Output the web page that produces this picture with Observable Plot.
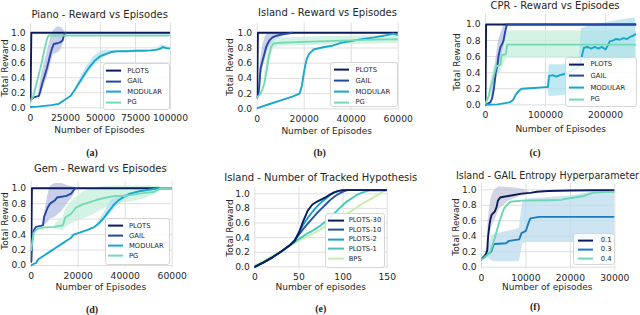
<!DOCTYPE html>
<html><head><meta charset="utf-8">
<script src="https://cdn.jsdelivr.net/npm/d3@7"></script>
<script src="https://cdn.jsdelivr.net/npm/@observablehq/plot@0.6"></script>
<style>
body{margin:0;background:#fff;}
#fig{position:relative;width:640px;height:315px;overflow:hidden;background:#fff;font-family:"DejaVu Sans",sans-serif;color:#262626;}
#fig svg{position:absolute;left:0;top:0;}
.t{position:absolute;white-space:nowrap;transform:translate(-50%,-50%);line-height:1;}
.title{font-size:10px;}
.xl{font-size:9px;}
.yl{font-size:9px;transform:translate(-50%,-50%) rotate(-90deg);}
.cap{font-family:"Liberation Serif",serif;font-weight:bold;font-size:10px;}
.leg{position:absolute;box-sizing:border-box;border:1px solid #d6d6d6;border-radius:3px;background:rgba(255,255,255,0.85);}
.row{position:absolute;font-size:6.8px;white-space:nowrap;transform:translateY(-50%);display:flex;align-items:center;line-height:1;}
.sw{display:inline-block;height:2px;}
</style>
</head><body>
<div id="fig"></div>
<script>
// ---------- DATA ----------
const seriesNames = ["PLOTS", "GAIL", "MODULAR", "PG"];
const hypNames = ["PLOTS-30", "PLOTS-10", "PLOTS-2", "PLOTS-1", "BPS"];
const entropyNames = ["0.1", "0.3", "0.4"];
const yTickValues = [0, 0.2, 0.4, 0.6, 0.8, 1.0];
const pianoTicks = [0, 25000, 50000, 75000, 100000];
const islandTicks = [0, 20000, 40000, 60000];
const cprTicks = [0, 100000, 200000];
const gemTicks = [0, 20000, 40000, 60000];
const hypTicks = [0, 50, 100, 150];
const entropyTicks = [0, 10000, 20000, 30000];

// (a) Piano
const pianoPLOTS = [[0,0.1],[600,1.0],[100000,1.0]];
const pianoGAIL = [[0,0.1],[2400,0.14],[6000,0.16],[7000,0.22],[8300,0.32],[10000,0.42],[11900,0.54],[13000,0.62],[14300,0.72],[15500,0.8],[16600,0.85],[19000,0.86],[21400,0.875],[23000,0.9],[23800,0.965],[25000,1.0]];
const pianoGAILBand = [[6000,0.1,0.22],[8000,0.2,0.45],[10000,0.3,0.6],[12000,0.4,0.75],[14000,0.55,0.9],[16000,0.7,1.02],[18000,0.72,1.06],[20000,0.74,1.08],[22000,0.78,1.07],[24000,0.9,1.03],[25000,1.0,1.0]];
const pianoMODULAR = [[0,0.01],[5000,0.015],[10000,0.025],[15000,0.035],[20000,0.05],[24000,0.1],[28800,0.16],[32000,0.25],[35700,0.36],[39000,0.46],[42800,0.56],[46000,0.63],[50000,0.69],[54000,0.72],[57100,0.74],[60000,0.75],[64300,0.755],[70000,0.755],[75000,0.76],[80900,0.76],[86000,0.765],[90500,0.775],[93000,0.79],[94500,0.81],[97000,0.795],[100000,0.79]];
const pianoMODULARBand = [[32000,0.24,0.27],[36000,0.32,0.41],[40000,0.43,0.55],[45000,0.55,0.68],[50000,0.64,0.75],[55000,0.7,0.77],[60000,0.74,0.76],[88000,0.76,0.77],[91000,0.76,0.8],[94000,0.77,0.84],[97000,0.78,0.82],[100000,0.78,0.8]];
const pianoPG = [[0,0.08],[2000,0.16],[4000,0.3],[6000,0.45],[8000,0.6],[10000,0.78],[12000,0.93],[13000,0.965],[100000,0.965]];

// (b) Island
const islandPLOTS = [[0,0.15],[300,1.0],[60000,1.0]];
const islandGAIL = [[0,0.15],[500,0.18],[900,0.3],[1400,0.52],[2000,0.6],[2800,0.69],[3300,0.75],[3800,0.81],[4500,0.86],[5200,0.9],[6500,0.94],[8000,0.96],[10600,0.98],[13000,0.99],[14900,1.0]];
const islandGAILBand = [[500,0.15,0.3],[1500,0.4,0.65],[2500,0.55,0.85],[3500,0.65,0.95],[5000,0.8,1.0],[8000,0.92,1.0],[12000,0.96,1.0],[15000,1.0,1.0]];
const islandMODULAR = [[0,0.01],[5000,0.06],[10000,0.11],[15000,0.16],[18000,0.2],[19000,0.3],[20000,0.5],[21000,0.65],[22000,0.72],[24000,0.78],[28000,0.81],[32000,0.83],[36000,0.87],[40000,0.89],[45000,0.92],[50000,0.94],[55000,0.97],[58000,0.99],[60000,0.97]];
const islandPG = [[0,0.15],[1500,0.2],[3000,0.33],[4000,0.5],[5000,0.7],[6000,0.82],[7000,0.86],[10000,0.87],[20000,0.88],[30000,0.89],[40000,0.9],[50000,0.91],[60000,0.915]];
const islandPGBand = [[3000,0.25,0.45],[5000,0.6,0.8],[7000,0.8,0.92],[10000,0.82,0.93],[30000,0.84,0.95],[60000,0.86,0.97]];

// (c) CPR
const cprPLOTS = [[0,0.02],[1000,1.0],[252000,1.0]];
const cprGAIL = [[0,0.0],[8000,0.03],[11000,0.08],[14000,0.2],[17000,0.4],[20000,0.5],[22000,0.62],[25000,0.72],[28000,0.76],[30000,0.8],[32000,0.88],[34000,0.95],[36000,1.0],[252000,1.0]];
const cprGAILBand = [[10000,0.02,0.12],[14000,0.1,0.35],[18000,0.3,0.6],[22000,0.45,0.8],[26000,0.6,0.9],[30000,0.7,0.98],[34000,0.85,1.02],[36000,1.0,1.0]];
const cprMODULAR = [[0,0.0],[20000,0.005],[40000,0.03],[46000,0.06],[50000,0.12],[55000,0.17],[60000,0.2],[80000,0.21],[100000,0.22],[104000,0.22],[106000,0.36],[112000,0.37],[118000,0.35],[124000,0.37],[130000,0.38],[136000,0.4],[142000,0.42],[148000,0.44],[154000,0.47],[158000,0.5],[161000,0.62],[164000,0.71],[170000,0.72],[176000,0.7],[182000,0.72],[188000,0.7],[194000,0.72],[200000,0.69],[204000,0.74],[207000,0.79],[212000,0.8],[218000,0.82],[224000,0.81],[230000,0.83],[236000,0.82],[242000,0.85],[246000,0.86],[250000,0.88]];
const cprMODULARBand = [[104000,0.22,0.22],[106000,0.1,0.5],[130000,0.12,0.5],[156000,0.15,0.55],[160000,0.42,0.95],[180000,0.45,1.0],[200000,0.48,1.02],[220000,0.52,1.05],[250000,0.58,1.08]];
const cprPG = [[0,0.02],[5000,0.1],[10000,0.25],[15000,0.4],[18000,0.48],[25000,0.5],[27000,0.62],[34000,0.63],[36000,0.75],[252000,0.75]];
const cprPGBand = [[5000,0.05,0.15],[15000,0.3,0.5],[25000,0.4,0.6],[30000,0.5,0.85],[36000,0.58,0.92],[252000,0.58,0.92]];

// (d) Gem
const gemPLOTS = [[0,0.05],[300,1.0],[60000,1.0]];
const gemGAIL = [[0,0.05],[400,0.3],[1000,0.45],[2000,0.5],[5000,0.52],[5500,0.63],[7000,0.75],[8000,0.8],[10000,0.84],[11000,0.88],[15000,0.9],[17000,0.93],[18500,0.99],[19000,1.0]];
const gemGAILBand = [[5000,0.5,0.55],[7000,0.55,0.9],[8000,0.6,1.02],[10000,0.62,1.06],[13000,0.7,1.06],[16000,0.82,1.03],[18000,0.9,1.02],[19000,1.0,1.0]];
const gemMODULAR = [[0,0.0],[1000,0.02],[2000,0.03],[3000,0.08],[5000,0.12],[8000,0.18],[10000,0.22],[13000,0.28],[15000,0.32],[17000,0.36],[18000,0.4],[20000,0.42],[24000,0.46],[27000,0.5],[29000,0.55],[31000,0.62],[33000,0.7],[35000,0.78],[37000,0.84],[39000,0.88],[42000,0.93],[46000,0.96],[50000,0.98],[54000,1.0],[60000,1.0]];
const gemMODULARBand = [[28000,0.52,0.54],[31000,0.58,0.68],[34000,0.68,0.84],[37000,0.78,0.9],[40000,0.86,0.92],[42000,0.92,0.94]];
const gemPG = [[0,0.2],[1000,0.42],[2500,0.47],[5000,0.49],[10000,0.5],[13500,0.52],[14500,0.62],[17000,0.67],[19000,0.75],[22000,0.79],[25000,0.82],[28000,0.85],[32000,0.88],[36000,0.9],[40000,0.9],[46000,0.93],[52000,0.95],[54000,0.98],[55000,1.0],[60000,1.0]];
const gemPGBand = [[10000,0.47,0.53],[13500,0.45,0.62],[15000,0.5,0.75],[18000,0.55,0.85],[22000,0.6,0.95],[26000,0.65,1.0],[30000,0.72,1.02],[36000,0.8,1.03],[42000,0.82,1.03],[48000,0.86,1.03],[54000,0.94,1.03],[56000,1.0,1.0]];

// (e) Island - tracked hypotheses
const hyp30 = [[0,0],[10,0.06],[20,0.13],[30,0.21],[40,0.3],[45,0.35],[50,0.47],[55,0.63],[60,0.77],[65,0.85],[70,0.89],[75,0.92],[80,0.95],[85,0.99],[90,1.02],[95,1.04],[100,1.05],[150,1.05]];
const hyp10 = [[0,0],[10,0.06],[20,0.13],[30,0.21],[40,0.3],[45,0.36],[50,0.44],[55,0.52],[60,0.59],[65,0.66],[70,0.73],[75,0.79],[80,0.85],[85,0.91],[90,0.96],[95,1.0],[100,1.03],[105,1.05],[150,1.05]];
const hyp2 = [[0,0],[10,0.06],[20,0.13],[30,0.21],[40,0.3],[45,0.36],[50,0.47],[55,0.58],[60,0.67],[65,0.75],[70,0.82],[75,0.88],[80,0.93],[85,0.98],[90,1.02],[95,1.04],[100,1.05],[150,1.05]];
const hyp1 = [[0,0],[10,0.06],[20,0.13],[30,0.21],[40,0.3],[45,0.34],[50,0.38],[55,0.42],[60,0.46],[65,0.49],[70,0.53],[75,0.57],[80,0.62],[85,0.67],[90,0.73],[95,0.79],[100,0.85],[105,0.9],[110,0.94],[115,0.98],[120,1.01],[125,1.03],[130,1.045],[150,1.045]];
const hypBPS = [[0,0.02],[10,0.08],[20,0.15],[30,0.22],[40,0.29],[50,0.36],[60,0.42],[70,0.48],[80,0.55],[90,0.62],[100,0.69],[110,0.77],[120,0.85],[130,0.92],[140,0.99],[145,1.03],[150,1.065]];

// (f) Island - GAIL entropy
const ent01 = [[0,0.1],[1000,0.17],[1300,0.22],[1500,0.4],[1800,0.55],[2000,0.62],[2300,0.68],[3000,0.72],[3400,0.78],[3700,0.86],[4200,0.9],[5000,0.91],[7000,0.93],[9000,0.95],[11000,0.96],[12500,0.975],[15000,0.985],[20000,0.99],[25000,0.995],[30000,0.995]];
const ent01Band = [[1200,0.15,0.3],[1500,0.3,0.6],[2000,0.45,0.85],[2500,0.55,0.95],[3000,0.6,1.0],[4000,0.75,1.04],[6000,0.85,1.03],[8000,0.9,1.02],[10000,0.93,1.0],[11000,0.96,0.96]];
const ent03 = [[0,0.1],[500,0.13],[1500,0.17],[2200,0.2],[2700,0.29],[3000,0.3],[5500,0.31],[6200,0.34],[8500,0.36],[9000,0.44],[10000,0.47],[10500,0.56],[11000,0.63],[12000,0.64],[13000,0.65],[30000,0.65]];
const ent03Band = [[1000,0.12,0.2],[1500,0.12,0.25],[2500,0.07,0.42],[5000,0.07,0.45],[8500,0.07,0.5],[9300,0.3,0.86],[10000,0.32,0.88],[15000,0.32,0.9],[20000,0.32,0.92],[25000,0.32,0.97],[30000,0.32,0.97]];
const ent04 = [[0,0.1],[500,0.11],[1500,0.17],[2000,0.2],[2700,0.32],[3400,0.46],[4000,0.58],[4500,0.67],[5000,0.75],[5800,0.81],[6500,0.845],[9000,0.86],[15000,0.865],[18000,0.87],[19000,0.885],[21000,0.9],[23000,0.92],[24000,0.94],[25000,0.96],[27000,0.97],[30000,0.975]];

// ---------- STYLE / LAYOUT ----------
const C = {navy:"#0b1b5c", gail:"#2647a6", mod:"#17a6cc", pg:"#74dab6",
  p10:"#2452a6", p2:"#15a3cc", p1:"#40c9b6", bps:"#c4eeaa", e3:"#1d7cc0", e4:"#6cd7b0",
  bGail:"#b4bfe2", bMod:"#aee0ec", bPg:"#c6efdc", bE1:"#c6c7da", bE3:"#bcdcee"};

const fig = document.getElementById("fig");

function panel(cfg, bands, lines) {
  const k = cfg.y0px - cfg.y1px;
  const top = cfg.y1px - (cfg.yDomain[1] - 1) * k;
  const bottom = cfg.y0px - cfg.yDomain[0] * k;
  const marks = [
    Plot.gridX({ticks: cfg.xTicks, stroke: "#dedede", strokeOpacity: 1, strokeWidth: 1}),
    Plot.gridY({ticks: yTickValues, stroke: "#dedede", strokeOpacity: 1, strokeWidth: 1}),
    ...bands.map(b => Plot.areaY(b.data, {x: d => d[0], y1: d => d[1], y2: d => d[2], fill: b.color, fillOpacity: 0.75, clip: true})),
    ...lines.map(s => Plot.line(s.data, {x: d => d[0], y: d => d[1], stroke: s.color, strokeWidth: 1.9, clip: true})),
    Plot.axisX({ticks: cfg.xTicks, tickSize: 0, tickPadding: 4.5, fontSize: 9.2, tickFormat: d3.format("d"), label: null}),
    Plot.axisY({ticks: yTickValues, tickSize: 0, tickPadding: 5, fontSize: 9.2, tickFormat: d3.format(".1f"), label: null})
  ];
  const svg = Plot.plot({
    width: 640, height: 315,
    marginLeft: cfg.left, marginRight: 640 - cfg.right, marginTop: top, marginBottom: 315 - bottom,
    x: {domain: cfg.xDomain}, y: {domain: cfg.yDomain},
    style: {background: "transparent", overflow: "visible", color: "#262626", fontFamily: "DejaVu Sans"},
    marks
  });
  fig.appendChild(svg);
}

function text(cls, s, x, y) {
  const d = document.createElement("div");
  d.className = "t " + cls;
  d.textContent = s;
  d.style.left = x + "px"; d.style.top = y + "px";
  fig.appendChild(d);
  return d;
}

function legend(box, names, colors) {
  const d = document.createElement("div");
  d.className = "leg";
  Object.assign(d.style, {left: box.x + "px", top: box.y + "px", width: box.w + "px", height: box.h + "px"});
  names.forEach((n, i) => {
    const r = document.createElement("div");
    r.className = "row";
    r.style.left = box.lx + "px";
    r.style.top = (box.r0 + i * box.step) + "px";
    const sw = document.createElement("span");
    sw.className = "sw";
    sw.style.width = box.len + "px"; sw.style.background = colors[i]; sw.style.marginRight = box.gap + "px";
    r.appendChild(sw);
    r.appendChild(document.createTextNode(n));
    d.appendChild(r);
  });
  fig.appendChild(d);
}

const four = [C.navy, C.gail, C.mod, C.pg];

// (a)
panel({left:30, right:170, y0px:107.3, y1px:32.3, xDomain:[0,100000], yDomain:[-0.03,1.13], xTicks:pianoTicks},
  [{data:pianoGAILBand, color:C.bGail},{data:pianoMODULARBand, color:C.bMod}],
  [{data:pianoPLOTS,color:C.navy},{data:pianoGAIL,color:C.gail},{data:pianoMODULAR,color:C.mod},{data:pianoPG,color:C.pg}]);
// (b)
panel({left:256.7, right:397.7, y0px:108.3, y1px:32.3, xDomain:[0,60000], yDomain:[-0.03,1.13], xTicks:islandTicks},
  [{data:islandGAILBand, color:C.bGail},{data:islandPGBand, color:C.bPg}],
  [{data:islandPLOTS,color:C.navy},{data:islandGAIL,color:C.gail},{data:islandMODULAR,color:C.mod},{data:islandPG,color:C.pg}]);
// (c)
panel({left:485, right:636.2, y0px:104.3, y1px:24, xDomain:[0,252000], yDomain:[-0.03,1.13], xTicks:cprTicks},
  [{data:cprPGBand, color:C.bPg},{data:cprMODULARBand, color:C.bMod},{data:cprGAILBand, color:C.bGail}],
  [{data:cprPLOTS,color:C.navy},{data:cprGAIL,color:C.gail},{data:cprMODULAR,color:C.mod},{data:cprPG,color:C.pg}]);
// (d)
panel({left:30.7, right:171.7, y0px:265, y1px:187.7, xDomain:[0,60000], yDomain:[-0.03,1.09], xTicks:gemTicks},
  [{data:gemGAILBand, color:C.bGail},{data:gemPGBand, color:C.bPg},{data:gemMODULARBand, color:C.bMod}],
  [{data:gemPLOTS,color:C.navy},{data:gemGAIL,color:C.gail},{data:gemMODULAR,color:C.mod},{data:gemPG,color:C.pg}]);
// (e)
panel({left:254.3, right:386.7, y0px:266.3, y1px:193.3, xDomain:[0,150], yDomain:[-0.03,1.09], xTicks:hypTicks},
  [],
  [{data:hypBPS,color:C.bps},{data:hyp1,color:C.p1},{data:hyp2,color:C.p2},{data:hyp10,color:C.p10},{data:hyp30,color:C.navy}]);
// (f)
panel({left:481, right:614.3, y0px:266.7, y1px:189.3, xDomain:[0,30000], yDomain:[-0.03,1.08], xTicks:entropyTicks},
  [{data:ent03Band, color:C.bE3},{data:ent01Band, color:C.bE1}],
  [{data:ent01,color:C.navy},{data:ent03,color:C.e3},{data:ent04,color:C.e4}]);

// titles
text("title", "Piano - Reward vs Episodes", 99.7, 15);
text("title", "Island - Reward vs Episodes", 327.5, 13.3);
text("title", "CPR - Reward vs Episodes", 555, 5.5);
text("title", "Gem - Reward vs Episodes", 100.3, 169.3);
text("title", "Island - Number of Tracked Hypothesis", 320.8, 177.7);
const ft = text("title", "Island - GAIL Entropy Hyperparameter", 0, 176);
ft.style.left = "auto"; ft.style.right = "1px"; ft.style.transform = "translate(0,-50%)"; ft.style.fontSize = "9.6px";
// x labels
text("xl", "Number of Episodes", 99.5, 130.3);
text("xl", "Number of Episodes", 326.7, 130.5);
text("xl", "Number of Episodes", 560.7, 129);
text("xl", "Number of Episodes", 100.8, 286.7);
text("xl", "Number of episodes", 320.8, 286.7);
text("xl", "Number of episodes", 547.3, 286.7);
// y labels
text("yl", "Total Reward", 5, 67.5);
text("yl", "Total Reward", 230, 66.7);
text("yl", "Total Reward", 456.7, 62);
text("yl", "Total Reward", 5, 220.8);
text("yl", "Total Reward", 230, 228.3);
text("yl", "Total Reward", 455.7, 226.7);
// captions
text("cap", "(a)", 92, 153);
text("cap", "(b)", 319.7, 153);
text("cap", "(c)", 535, 153);
text("cap", "(d)", 92, 310);
text("cap", "(e)", 320.8, 309);
text("cap", "(f)", 535, 306.7);

// legends
legend({x:103.3, y:63.3, w:66.7, h:46.7, lx:2, r0:6.7, step:10.5, len:15, gap:6}, seriesNames, four);
legend({x:330, y:61.7, w:68.3, h:45, lx:3, r0:7.3, step:10.8, len:15, gap:6.5}, seriesNames, four);
legend({x:565, y:56.7, w:71.7, h:50, lx:3, r0:6.6, step:11.7, len:15, gap:6.5}, seriesNames, four);
legend({x:105, y:218.3, w:65, h:46.7, lx:2, r0:6.7, step:10, len:15, gap:6}, seriesNames, four);
legend({x:325, y:213.3, w:60, h:55, lx:1.7, r0:6, step:9.6, len:16, gap:5}, hypNames, [C.navy, C.p10, C.p2, C.p1, C.bps]);
legend({x:573.3, y:233.3, w:41.7, h:31.7, lx:3.4, r0:6, step:9.2, len:15, gap:8}, entropyNames, [C.navy, C.e3, C.e4]);
</script>
</body></html>
